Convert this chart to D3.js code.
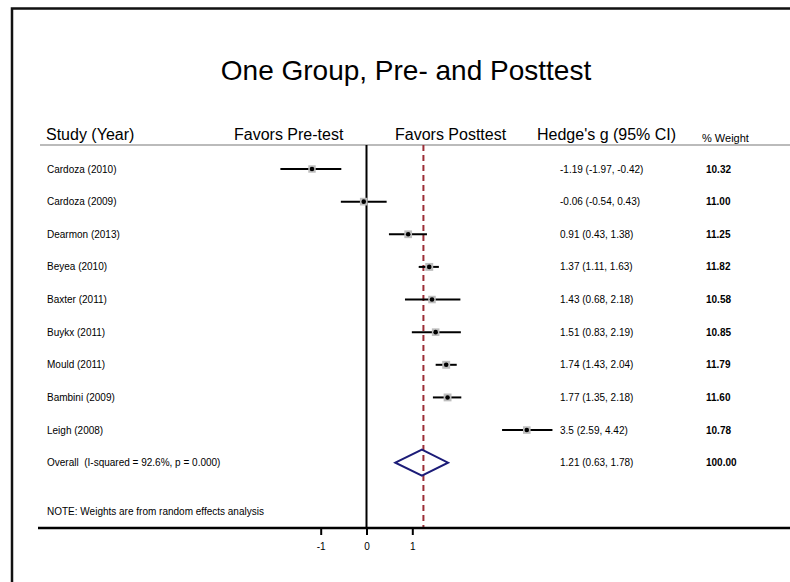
<!DOCTYPE html>
<html lang="en">
<head>
  <meta charset="UTF-8">
  <title>Forest plot</title>
  <script src="https://cdn.jsdelivr.net/npm/d3@7"></script>
  <style>
    body { margin: 0; background: #fff; }
    svg { display: block; font-family: "Liberation Sans", Arial, Helvetica, sans-serif; }
    text { white-space: pre; }
  </style>
</head>
<body>
  <svg class="svg"></svg>
  <script>
    const studies = ['Cardoza (2010)', 'Cardoza (2009)', 'Dearmon (2013)', 'Beyea (2010)', 'Baxter (2011)',
                     'Buykx (2011)', 'Mould (2011)', 'Bambini (2009)', 'Leigh (2008)'];
    const effect = [-1.19, -0.06, 0.91, 1.37, 1.43, 1.51, 1.74, 1.77, 3.5];
    // whisker ends as drawn in the figure
    const lowPlot = [-1.88, -0.56, 0.49, 1.14, 0.84, 0.99, 1.51, 1.45, 2.96];
    const highPlot = [-0.55, 0.44, 1.32, 1.58, 2.05, 2.06, 1.97, 2.07, 4.06];
    const ciText = ['-1.19 (-1.97, -0.42)', '-0.06 (-0.54, 0.43)', '0.91 (0.43, 1.38)', '1.37 (1.11, 1.63)',
                    '1.43 (0.68, 2.18)', '1.51 (0.83, 2.19)', '1.74 (1.43, 2.04)', '1.77 (1.35, 2.18)',
                    '3.5 (2.59, 4.42)'];
    const weights = ['10.32', '11.00', '11.25', '11.82', '10.58', '10.85', '11.79', '11.60', '10.78'];
    const overall = { label: 'Overall  (I-squared = 92.6%, p = 0.000)', est: 1.21, lo: 0.63, hi: 1.78,
                      text: '1.21 (0.63, 1.78)', weight: '100.00' };
    const xTicks = [-1, 0, 1];

    const w = 790, h = 582;
    const svg = d3.select('.svg').attr('width', w).attr('height', h);

    const x = d3.scaleLinear().domain([-1, 1]).range([320.7, 412.3]);
    const rows = d3.range(studies.length + 1);
    const y = d3.scalePoint().domain(rows).range([169, 462.7]);
    const box = d3.scaleSqrt().domain([0, 12]).range([0, 8]);

    const topY = 145, axisY = 528;

    // frame
    svg.append('rect').attr('x', 12).attr('y', 8.5).attr('width', 900).attr('height', 700)
      .attr('fill', 'none').attr('stroke', '#111').attr('stroke-width', 2.5);

    svg.append('text').attr('x', 406).attr('y', 80).attr('text-anchor', 'middle')
      .attr('font-size', 28).text('One Group, Pre- and Posttest');

    // header
    const hdr = svg.append('g').attr('font-size', 16);
    hdr.append('text').attr('x', 46).attr('y', 140).text('Study (Year)');
    hdr.append('text').attr('x', 234).attr('y', 140).text('Favors Pre-test');
    hdr.append('text').attr('x', 395).attr('y', 140).text('Favors Posttest');
    hdr.append('text').attr('x', 537).attr('y', 140).text("Hedge's g (95% CI)");
    svg.append('text').attr('x', 702).attr('y', 142).attr('font-size', 11).text('% Weight');
    svg.append('line').attr('x1', 40).attr('x2', w).attr('y1', topY).attr('y2', topY)
      .attr('stroke', '#bbb').attr('stroke-width', 2);

    // reference lines
    svg.append('line').attr('x1', x(0)).attr('x2', x(0)).attr('y1', topY).attr('y2', axisY)
      .attr('stroke', '#000').attr('stroke-width', 2);
    svg.append('line').attr('x1', x(overall.est) + 1.5).attr('x2', x(overall.est) + 1.5).attr('y1', topY).attr('y2', axisY)
      .attr('stroke', '#9b2d35').attr('stroke-width', 2).attr('stroke-dasharray', '6,4');

    // study rows
    const g = svg.selectAll('.row').data(studies).enter().append('g').attr('class', 'row');
    g.append('text').attr('x', 47).attr('y', (d, i) => y(i) + 3.5).attr('font-size', 10).text(d => d);
    g.append('line')
      .attr('x1', (d, i) => x(lowPlot[i])).attr('x2', (d, i) => x(highPlot[i]))
      .attr('y1', (d, i) => y(i)).attr('y2', (d, i) => y(i))
      .attr('stroke', '#000').attr('stroke-width', 2);
    g.append('rect')
      .attr('x', (d, i) => x(effect[i]) - box(+weights[i]) / 2)
      .attr('y', (d, i) => y(i) - box(+weights[i]) / 2)
      .attr('width', (d, i) => box(+weights[i])).attr('height', (d, i) => box(+weights[i]))
      .attr('fill', '#bdbdbd');
    g.append('circle').attr('cx', (d, i) => x(effect[i])).attr('cy', (d, i) => y(i)).attr('r', 2.3)
      .attr('fill', '#000');
    g.append('text').attr('x', 560).attr('y', (d, i) => y(i) + 3.5).attr('font-size', 10)
      .text((d, i) => ciText[i]);
    g.append('text').attr('x', 706).attr('y', (d, i) => y(i) + 3.5).attr('font-size', 10)
      .attr('font-weight', 'bold').text((d, i) => weights[i]);

    // overall
    const oy = y(studies.length);
    svg.append('text').attr('x', 47).attr('y', oy + 3.5).attr('font-size', 10).text(overall.label);
    svg.append('polygon')
      .attr('points', [[x(overall.lo), oy], [x(overall.est), oy - 13], [x(overall.hi), oy], [x(overall.est), oy + 13]].join(' '))
      .attr('fill', 'none').attr('stroke', '#1c1c78').attr('stroke-width', 2);
    svg.append('text').attr('x', 560).attr('y', oy + 3.5).attr('font-size', 10).text(overall.text);
    svg.append('text').attr('x', 706).attr('y', oy + 3.5).attr('font-size', 10)
      .attr('font-weight', 'bold').text(overall.weight);

    svg.append('text').attr('x', 47).attr('y', 515).attr('font-size', 10)
      .text('NOTE: Weights are from random effects analysis');

    // axis
    const axis = svg.append('g').attr('transform', 'translate(0,' + axisY + ')')
      .call(d3.axisBottom(x).tickValues(xTicks).tickSize(7).tickPadding(8).tickFormat(d => String(d)));
    axis.select('.domain').remove();
    axis.selectAll('line').attr('stroke-width', 2);
    axis.selectAll('text').attr('font-size', 10).attr('font-family', '"Liberation Sans", Arial, sans-serif');
    svg.append('line').attr('x1', 38).attr('x2', w).attr('y1', axisY).attr('y2', axisY)
      .attr('stroke', '#000').attr('stroke-width', 2.5);
  </script>
</body>
</html>
